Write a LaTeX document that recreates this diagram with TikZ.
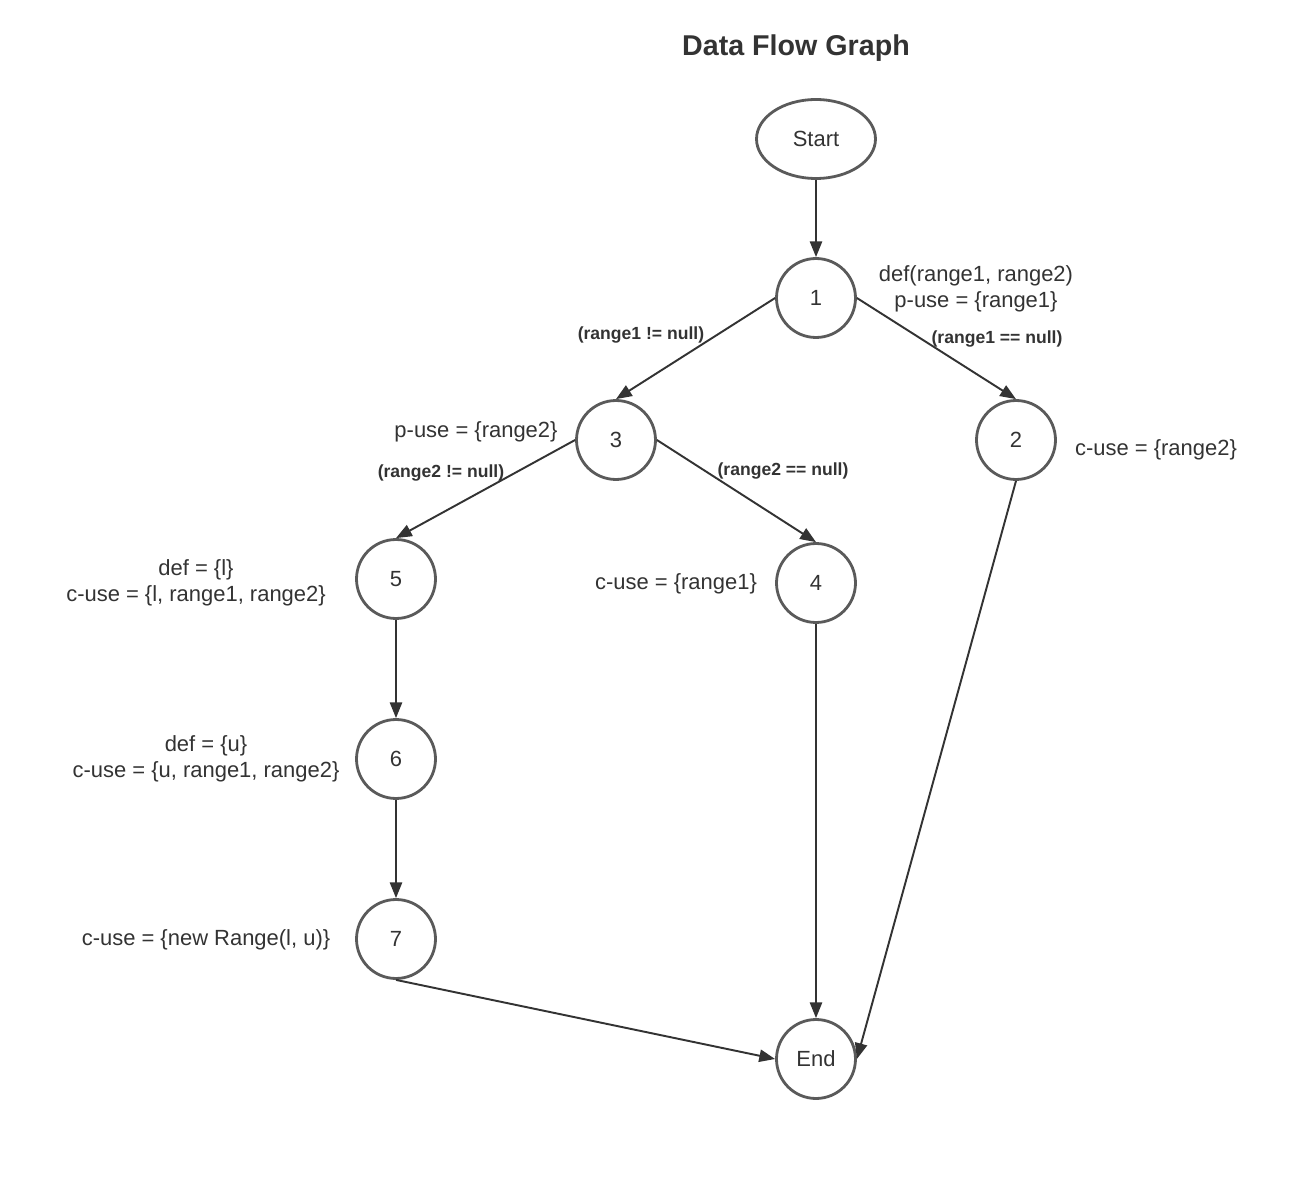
\documentclass[tikz,border=0pt]{standalone}
\usepackage{fontspec}
\setmainfont{Liberation Sans}
\usetikzlibrary{arrows.meta}
\usetikzlibrary{shapes.geometric}

\begin{document}
\begin{tikzpicture}[
        x=0.02cm, y=-0.02cm,
        every node/.style={text=inkgray, font=\fontsize{12.5}{15}\selectfont},
        vertex/.style={circle, draw=ringgray, line width=1.6pt, minimum size=1.58cm, inner sep=0pt},
        terminal/.style={ellipse, draw=ringgray, line width=1.6pt, minimum width=2.38cm, minimum height=1.58cm, inner sep=0pt},
        cond/.style={font=\bfseries\fontsize{10}{12}\selectfont},
        note/.style={align=center},
        flow/.style={draw=inkgray, line width=1.1pt, -{Triangle[length=9pt, width=7pt]}},
    ]
        \definecolor{inkgray}{RGB}{51,51,51}
        \definecolor{ringgray}{RGB}{90,90,90}

        \useasboundingbox (0,0) rectangle (1316,1199);

        % Title
        \node[font=\bfseries\fontsize{16.3}{19}\selectfont] (title) at (796,48) {Data Flow Graph};

        % Nodes
        \node[terminal] (start) at (816,139) {Start};
        \node[vertex] (n1) at (816,298) {1};
        \node[vertex] (n2) at (1016,440) {2};
        \node[vertex] (n3) at (616,440) {3};
        \node[vertex] (n4) at (816,583) {4};
        \node[vertex] (n5) at (396,579) {5};
        \node[vertex] (n6) at (396,759) {6};
        \node[vertex] (n7) at (396,939) {7};
        \node[vertex] (end) at (816,1059) {End};

        % Annotations
        \node[note] (a1) at (976,289) {def(range1, range2)\\p-use = \{range1\}};
        \node[note] (a2) at (1156,450) {c-use = \{range2\}};
        \node[note] (a3) at (476,432) {p-use = \{range2\}};
        \node[note] (a4) at (676,584) {c-use = \{range1\}};
        \node[note] (a5) at (196,583) {def = \{l\}\\c-use = \{l, range1, range2\}};
        \node[note] (a6) at (206,759) {def = \{u\}\\c-use = \{u, range1, range2\}};
        \node[note] (a7) at (206,940) {c-use = \{new Range(l, u)\}};

        % Conditions
        \node[cond] (c13) at (641,335) {(range1 != null)};
        \node[cond] (c12) at (997,339) {(range1 == null)};
        \node[cond] (c35) at (441,473) {(range2 != null)};
        \node[cond] (c34) at (783,471) {(range2 == null)};

        % Edges
        \draw[flow] (start) -- (n1);
        \draw[flow] (n1.west) -- (n3.north);
        \draw[flow] (n1.east) -- (n2.north);
        \draw[flow] (n3.west) -- (n5.north);
        \draw[flow] (n3.east) -- (n4.north);
        \draw[flow] (n5) -- (n6);
        \draw[flow] (n6) -- (n7);
        \draw[flow] (n7.south) -- (end.west);
        \draw[flow] (n4) -- (end);
        \draw[flow] (n2.south) -- (end.east);
    \end{tikzpicture}
\end{document}
